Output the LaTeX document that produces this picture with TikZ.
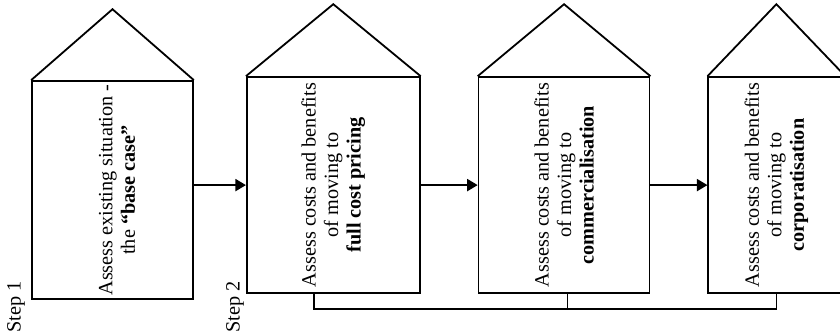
\documentclass[tikz,border=0pt]{standalone}
\usepackage{fontspec}
\setmainfont{Liberation Serif}
\usetikzlibrary{positioning,arrows.meta}

\begin{document}
\begin{tikzpicture}[
    every node/.style={font=\fontsize{13.5}{15}\selectfont},
    house/.style={rectangle, draw, line width=1.2pt, minimum height=144pt, minimum width=#1, inner sep=0pt},
    roof/.style={line width=1.2pt},
    caption/.style={rotate=90, align=center},
    steplabel/.style={rotate=90},
    arrow/.style={-{Triangle[length=7pt, width=8pt]}, line width=1.2pt},
    link/.style={line width=1.2pt}
]
\useasboundingbox (0,0) rectangle (560pt,-222pt);

% Step 1: base case
\node[house=107.3pt, minimum height=145.3pt] (b1) at (75pt,-126.7pt) {};
\draw[roof] (b1.north west) -- ([yshift=47.3pt]b1.north) -- (b1.north east);
\node[caption] (t1) at ([xshift=3pt]b1.center) {Assess existing situation -\\the \textbf{``base case''}};
\node[steplabel] (s1) at ([xshift=-10pt,yshift=-4.5pt]b1.south west) {Step 1};

% Step 2: the three options
\node[house=115.3pt, right=34.7pt of b1, yshift=3.3pt] (b2) {};
\draw[roof] (b2.north west) -- ([yshift=48pt]b2.north) -- (b2.north east);
\node[caption] (t2) at (b2.center) {Assess costs and benefits\\of moving to\\\textbf{full cost pricing}};
\node[steplabel] (s2) at ([xshift=-7.3pt,yshift=-8.5pt]b2.south west) {Step 2};

\node[house=114pt, right=38pt of b2] (b3) {};
\draw[roof] (b3.north west) -- ([yshift=48pt]b3.north) -- (b3.north east);
\node[caption] (t3) at (b3.center) {Assess costs and benefits\\of moving to\\\textbf{commercialisation}};

\node[house=90.7pt, right=38pt of b3] (b4) {};
\draw[roof] (b4.north west) -- ([yshift=48pt]b4.north) -- (b4.north east);
\node[caption] (t4) at (b4.center) {Assess costs and benefits\\of moving to\\\textbf{corporatisation}};

% Arrows between steps
\draw[arrow] (b1.east |- b2.west) -- (b2.west);
\draw[arrow] (b2.east) -- (b3.west);
\draw[arrow] (b3.east) -- (b4.west);

% Link along the bottom
\coordinate[below=10pt of b4.south] (bar);
\draw[link] ([xshift=-13pt]b2.south) |- (bar) -- (b4.south);
\draw[link] ([xshift=2.3pt]b3.south) -- ([xshift=2.3pt]b3.south |- bar);

\end{tikzpicture}
\end{document}
